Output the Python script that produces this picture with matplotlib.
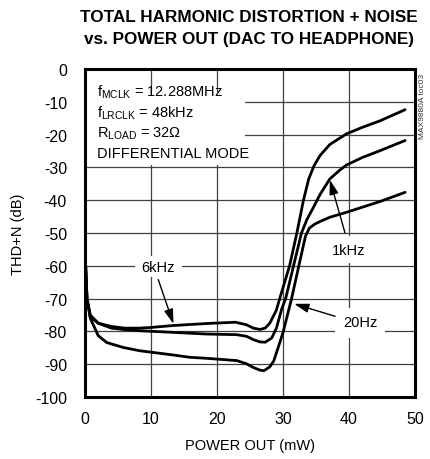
import matplotlib
matplotlib.use("Agg")
import matplotlib.pyplot as plt
from matplotlib.patches import Rectangle

plt.rcParams['font.family'] = ['Liberation Sans', 'DejaVu Sans']
plt.rcParams['mathtext.fontset'] = 'custom'
plt.rcParams['mathtext.rm'] = 'Liberation Sans'
plt.rcParams['mathtext.it'] = 'Liberation Sans'
plt.rcParams['mathtext.bf'] = 'Liberation Sans:bold'
plt.rcParams['axes.unicode_minus'] = False

# curves: power out (mW) vs THD+N (dB)
p_6k = [0.1, 0.3, 0.8, 2, 4, 6, 8.3, 10, 13.4, 18.4, 22.8, 24.5, 25.5, 26.5, 27.3,
        28.0, 29.0, 29.5, 31.0, 32.1, 33.1, 33.9, 34.7, 35.6, 37.1, 39.6, 42.0, 44.7, 48.5]
thd_6k = [-60, -70, -75, -77.5, -78.5, -79, -79, -78.8, -78.2, -77.6, -77.2, -78, -79, -79.4, -79,
          -77.5, -73.5, -70, -60, -50, -40, -33.5, -29.5, -26.4, -23, -19.8, -17.8, -15.8, -12.4]

p_1k = [0.1, 0.3, 0.8, 2, 4, 5.8, 8.3, 13.4, 18.4, 23, 24.5, 25.5, 26.5, 27.3, 28.3,
        29.0, 29.8, 30.4, 31.6, 32.8, 33.6, 34.5, 35.6, 37.1, 38.5, 39.6, 42.0, 44.7, 48.5]
thd_1k = [-60, -70, -75.5, -77.5, -79, -79.4, -79.8, -80.3, -80.8, -81, -81.5, -82.5, -83.2, -83.3, -82,
          -79, -73.2, -70, -60, -50, -46, -42.6, -38.3, -33.5, -31, -29.3, -27, -24.9, -21.8]

p_20 = [0.1, 0.3, 0.8, 2, 3.3, 5.8, 8.3, 13.4, 15.9, 18.4, 23, 24.5, 25.5, 26.5, 27.1,
        28.0, 28.6, 29.5, 30.05, 31.3, 32.4, 33.4, 34.0, 34.8, 35.6, 37.1, 39.6, 44.7, 48.5]
thd_20 = [-60, -70, -76, -81.3, -83.4, -84.9, -85.9, -87.2, -87.9, -88.2, -88.9, -89.9, -91, -91.8, -92,
          -90.8, -89, -83.5, -80, -70, -60, -51, -48.5, -47.3, -46.5, -45.2, -43.7, -40.4, -37.6]

x_ticks = [0, 10, 20, 30, 40, 50]
y_ticks = [0, -10, -20, -30, -40, -50, -60, -70, -80, -90, -100]

fig = plt.figure(figsize=(4.31, 4.60), dpi=100)
ax = fig.add_axes([85 / 431, 1 - 398 / 460, 330 / 431, 328 / 460])

ax.set_xlim(0, 50)
ax.set_ylim(-100, 0)
ax.set_xticks(x_ticks)
ax.set_yticks(y_ticks)
ax.tick_params(length=0, labelsize=11.5)
ax.tick_params(axis='y', pad=13)
ax.tick_params(axis='x', pad=10)
ax.set_axisbelow(True)
ax.grid(True, color='#404040', lw=0.9)
for s in ax.spines.values():
    s.set_linewidth(2.2)

for xs, ys in [(p_6k, thd_6k), (p_1k, thd_1k), (p_20, thd_20)]:
    ax.plot(xs, ys, color='black', lw=2.0, solid_joinstyle='round', solid_capstyle='round', zorder=3)

# white area behind the conditions text
ax.add_patch(Rectangle((0, -29.3), 24.2, 22.3, facecolor='white', edgecolor='none', zorder=1))
lines = [r'f$_{\mathrm{MCLK}}$ = 12.288MHz', r'f$_{\mathrm{LRCLK}}$ = 48kHz',
         r'R$_{\mathrm{LOAD}}$ = 32$\Omega$', 'DIFFERENTIAL MODE']
for i, t in enumerate(lines):
    ax.text(1.8, -8.2 - 6.2 * i, t, fontsize=10.5, va='baseline', ha='left', zorder=4)

# curve labels with arrows
ax.add_patch(Rectangle((7.6, -63.4), 7.1, 6.4, facecolor='white', edgecolor='none', zorder=1))
ax.text(11.1, -60.5, '6kHz', fontsize=10.5, ha='center', va='center', zorder=4)
ax.add_patch(Rectangle((37.6, -59), 5.0, 8, facecolor='white', edgecolor='none', zorder=1))
ax.text(39.9, -55.3, '1kHz', fontsize=10.5, ha='center', va='center', zorder=4)
ax.add_patch(Rectangle((37.9, -82), 7.6, 9, facecolor='white', edgecolor='none', zorder=1))
ax.text(41.7, -77.2, '20Hz', fontsize=10.5, ha='center', va='center', zorder=4)

arrow = dict(arrowstyle='-|>,head_length=0.8,head_width=0.25', color='black', lw=1.0,
             mutation_scale=11, shrinkA=0, shrinkB=0)
ax.annotate('', xy=(13.4, -77.7), xytext=(11.1, -64.2), arrowprops=arrow, zorder=5)
ax.annotate('', xy=(37.1, -33.8), xytext=(39.4, -50.0), arrowprops=arrow, zorder=5)
ax.annotate('', xy=(31.7, -71.6), xytext=(37.9, -75.4), arrowprops=arrow, zorder=5)

fig.text(249 / 431, 1 - 18 / 460, 'TOTAL HARMONIC DISTORTION + NOISE', fontsize=12.3,
         fontweight='bold', ha='center', va='center')
fig.text(249 / 431, 1 - 40 / 460, 'vs. POWER OUT (DAC TO HEADPHONE)', fontsize=12.3,
         fontweight='bold', ha='center', va='center')
fig.text(250 / 431, 1 - 446 / 460, 'POWER OUT (mW)', fontsize=10.5, ha='center', va='center')
fig.text(18 / 431, 1 - 234 / 460, 'THD+N (dB)', fontsize=10.5, rotation=90, ha='center', va='center')
fig.text(423 / 431, 1 - 106 / 460, 'MAX9880A toc03', fontsize=6, rotation=90, ha='center',
         va='center', color='#333333')

fig.savefig('out.png', dpi=100)
